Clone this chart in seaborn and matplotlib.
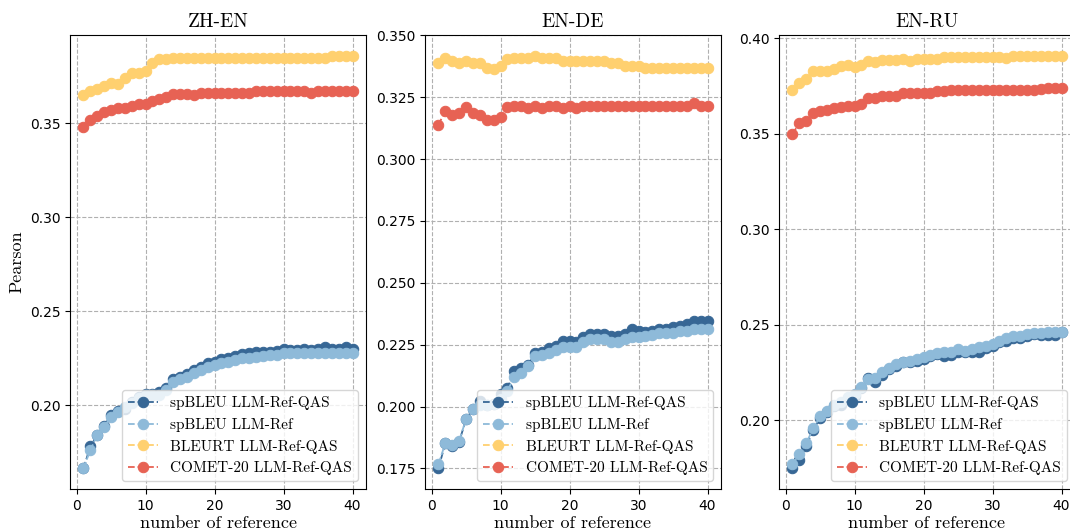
import numpy as np
import pandas as pd
import matplotlib
matplotlib.use("Agg")
import matplotlib.pyplot as plt
import seaborn as sns

refs = list(range(1, 41))

panel_titles = ["ZH-EN", "EN-DE", "EN-RU"]
series_names = ["spBLEU LLM-Ref-QAS", "spBLEU LLM-Ref", "BLEURT LLM-Ref-QAS", "COMET-20 LLM-Ref-QAS"]

# ZH-EN
zh_spbleu_qas = [0.1663, 0.178, 0.184, 0.189, 0.1947, 0.197, 0.198, 0.2018, 0.2044, 0.2057,
                 0.206, 0.207, 0.209, 0.214, 0.215, 0.2165, 0.2186, 0.220, 0.2225, 0.223,
                 0.2243, 0.225, 0.226, 0.227, 0.2275, 0.228, 0.2285, 0.2285, 0.229, 0.230,
                 0.2295, 0.2295, 0.230, 0.2295, 0.230, 0.231, 0.2298, 0.2298, 0.231, 0.2296]
zh_spbleu_ref = [0.1663, 0.176, 0.184, 0.1885, 0.1938, 0.1965, 0.199, 0.201, 0.2035, 0.2053,
                 0.2055, 0.2056, 0.2078, 0.2124, 0.214, 0.2152, 0.2168, 0.2186, 0.220, 0.2213,
                 0.2225, 0.223, 0.2239, 0.2248, 0.2253, 0.2257, 0.226, 0.2266, 0.2269, 0.2275,
                 0.2275, 0.2275, 0.2276, 0.2276, 0.2277, 0.2277, 0.2277, 0.2277, 0.2277, 0.2277]
zh_bleurt = [0.365, 0.3674, 0.368, 0.370, 0.3713, 0.371, 0.374, 0.377, 0.377, 0.378,
             0.382, 0.384, 0.384, 0.3846, 0.385, 0.385, 0.385, 0.385, 0.385, 0.385,
             0.385, 0.385, 0.385, 0.385, 0.385, 0.385, 0.385, 0.385, 0.385, 0.385,
             0.385, 0.385, 0.385, 0.385, 0.385, 0.385, 0.386, 0.386, 0.386, 0.386]
zh_comet = [0.3479, 0.352, 0.354, 0.356, 0.357, 0.358, 0.358, 0.359, 0.360, 0.360,
            0.362, 0.363, 0.364, 0.3656, 0.3656, 0.3656, 0.365, 0.366, 0.3663, 0.3663,
            0.3663, 0.3663, 0.3663, 0.3663, 0.3663, 0.367, 0.367, 0.367, 0.367, 0.367,
            0.367, 0.367, 0.367, 0.366, 0.367, 0.367, 0.367, 0.367, 0.367, 0.367]

# EN-DE
de_spbleu_qas = [0.175, 0.1852, 0.184, 0.1857, 0.1949, 0.199, 0.2023, 0.2005, 0.2009, 0.205,
                 0.2073, 0.2144, 0.2154, 0.2167, 0.2216, 0.222, 0.2235, 0.2245, 0.2265, 0.2265,
                 0.2261, 0.2279, 0.2292, 0.2292, 0.2292, 0.2283, 0.2283, 0.2292, 0.2315, 0.2306,
                 0.2302, 0.2306, 0.2315, 0.2315, 0.232, 0.2324, 0.2333, 0.2344, 0.2344, 0.2344]
de_spbleu_ref = [0.1767, 0.1852, 0.1844, 0.1861, 0.1949, 0.199, 0.2005, 0.2005, 0.2009, 0.2032,
                 0.2063, 0.2121, 0.2137, 0.2164, 0.2205, 0.2208, 0.2218, 0.2229, 0.2239, 0.2239,
                 0.2239, 0.2261, 0.2272, 0.2272, 0.2272, 0.2261, 0.2261, 0.2272, 0.2279, 0.2279,
                 0.2283, 0.2288, 0.2296, 0.2299, 0.2299, 0.2306, 0.2306, 0.2315, 0.2313, 0.2313]
de_bleurt = [0.3387, 0.3408, 0.3398, 0.3387, 0.3398, 0.339, 0.339, 0.3367, 0.3365, 0.3378,
             0.3405, 0.3408, 0.3408, 0.3408, 0.3418, 0.3408, 0.3408, 0.3408, 0.3398, 0.3398,
             0.3398, 0.3398, 0.3398, 0.3398, 0.3398, 0.3387, 0.3387, 0.3378, 0.3378, 0.3378,
             0.3367, 0.3367, 0.3367, 0.3367, 0.3367, 0.3367, 0.3367, 0.3367, 0.3367, 0.3367]
de_comet = [0.3138, 0.3196, 0.3179, 0.3188, 0.321, 0.3188, 0.318, 0.3158, 0.3158, 0.3169,
            0.321, 0.3215, 0.3215, 0.3205, 0.3215, 0.3205, 0.3215, 0.3215, 0.3205, 0.3215,
            0.3205, 0.3215, 0.3215, 0.3215, 0.3215, 0.3215, 0.3215, 0.3215, 0.3215, 0.3215,
            0.3215, 0.3215, 0.3215, 0.3215, 0.3215, 0.3215, 0.3215, 0.3228, 0.3215, 0.3215]

# EN-RU
ru_spbleu_qas = [0.1747, 0.1792, 0.1865, 0.1949, 0.2009, 0.204, 0.2072, 0.2078, 0.211, 0.2128,
                 0.2166, 0.2219, 0.2198, 0.2236, 0.2267, 0.2285, 0.2302, 0.2302, 0.2311, 0.232,
                 0.2334, 0.2346, 0.2334, 0.2341, 0.2358, 0.2355, 0.2355, 0.2358, 0.2376, 0.2386,
                 0.2407, 0.2416, 0.2428, 0.2428, 0.2442, 0.2451, 0.2446, 0.2446, 0.2446, 0.246]
ru_spbleu_ref = [0.1769, 0.1822, 0.1879, 0.1956, 0.2019, 0.2049, 0.2079, 0.2093, 0.2119, 0.2136,
                 0.2171, 0.2215, 0.2218, 0.225, 0.2271, 0.2294, 0.2306, 0.2311, 0.232, 0.2329,
                 0.2341, 0.2351, 0.2355, 0.2355, 0.2372, 0.2364, 0.2372, 0.2381, 0.239, 0.2399,
                 0.2416, 0.2428, 0.2439, 0.2442, 0.2451, 0.2456, 0.2458, 0.2463, 0.2463, 0.2463]
ru_bleurt = [0.3728, 0.3767, 0.379, 0.3828, 0.3828, 0.3828, 0.384, 0.3854, 0.3863, 0.385,
             0.3863, 0.388, 0.3875, 0.3886, 0.3886, 0.3886, 0.3893, 0.388, 0.3893, 0.3893,
             0.3893, 0.3893, 0.3904, 0.3904, 0.3904, 0.3904, 0.3904, 0.3904, 0.3904, 0.3904,
             0.3904, 0.3898, 0.391, 0.391, 0.391, 0.391, 0.391, 0.391, 0.391, 0.391]
ru_comet = [0.350, 0.3556, 0.3565, 0.3609, 0.3618, 0.3626, 0.3635, 0.364, 0.3644, 0.3647,
            0.3658, 0.3688, 0.3688, 0.370, 0.370, 0.370, 0.3714, 0.3714, 0.3714, 0.3716,
            0.3716, 0.3723, 0.3723, 0.3728, 0.3728, 0.3728, 0.3728, 0.3728, 0.3728, 0.3728,
            0.3728, 0.3728, 0.3728, 0.3728, 0.3728, 0.3728, 0.3735, 0.374, 0.374, 0.374]

panels = [
    [zh_spbleu_qas, zh_spbleu_ref, zh_bleurt, zh_comet],
    [de_spbleu_qas, de_spbleu_ref, de_bleurt, de_comet],
    [ru_spbleu_qas, ru_spbleu_ref, ru_bleurt, ru_comet],
]

colors = ["#376795", "#8EBAD9", "#FFD06F", "#E76254"]

serif = "cmr10"

W, H = 1070, 532
fig = plt.figure(figsize=(W / 100, H / 100), dpi=100)
lefts = [70, 425, 779]
ax_w, ax_top, ax_bot = 296, 35, 489

for i, (title, series) in enumerate(zip(panel_titles, panels)):
    ax = fig.add_axes([lefts[i] / W, (H - ax_bot) / H, ax_w / W, (ax_bot - ax_top) / H])
    for name, vals, c in zip(series_names, series, colors):
        df = pd.DataFrame({"ref": refs, "val": vals})
        sns.lineplot(data=df, x="ref", y="val", ax=ax, color=c, marker="o",
                     markersize=7.5, markeredgecolor=c, linestyle="--", linewidth=1.3,
                     label=name)
    ax.grid(True, linestyle="--", color="#b0b0b0", linewidth=0.8)
    ax.set_axisbelow(True)
    ax.set_xticks([0, 10, 20, 30, 40])
    ax.tick_params(labelsize=10)
    ax.set_title(title, fontsize=14, family=serif)
    ax.set_xlabel("number of reference", fontsize=13, family=serif, labelpad=2)
    if i == 0:
        ax.set_ylabel("Pearson", fontsize=13, family=serif)
    else:
        ax.set_ylabel("")
    leg = ax.legend(loc="lower right", prop={"family": serif, "size": 11})

fig.savefig("out.png", dpi=100)
